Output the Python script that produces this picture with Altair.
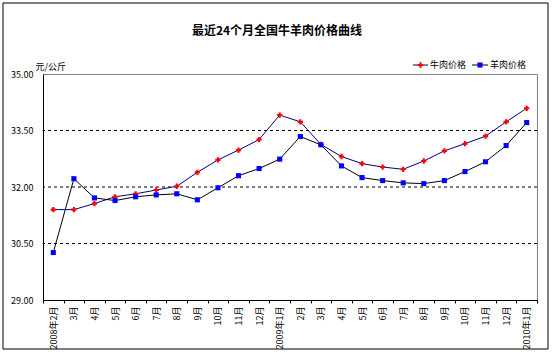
import json
import altair as alt
import pandas as pd

labels = ["2008年2月", "3月", "4月", "5月", "6月", "7月", "8月", "9月", "10月", "11月", "12月",
          "2009年1月", "2月", "3月", "4月", "5月", "6月", "7月", "8月", "9月", "10月", "11月", "12月",
          "2010年1月"]
beef = [31.40, 31.40, 31.56, 31.74, 31.82, 31.92, 32.02, 32.39, 32.72, 32.98, 33.26, 33.91,
        33.73, 33.13, 32.81, 32.62, 32.53, 32.47, 32.69, 32.96, 33.15, 33.35, 33.73, 34.09]
mutton = [30.26, 32.22, 31.71, 31.64, 31.74, 31.79, 31.82, 31.66, 31.98, 32.30, 32.49, 32.74,
          33.34, 33.12, 32.56, 32.25, 32.17, 32.11, 32.09, 32.17, 32.41, 32.67, 33.10, 33.71]
series_names = ["牛肉价格", "羊肉价格"]
y_ticks = [29.0, 30.5, 32.0, 33.5, 35.0]
grid_values = [30.5, 32.0, 33.5]
title_text = "最近24个月全国牛羊肉价格曲线"
y_unit = "元/公斤"

FONT = "Noto Sans CJK SC"

beef_df = pd.DataFrame({"idx": list(range(len(labels))), "value": beef})
mutton_df = pd.DataFrame({"idx": list(range(len(labels))), "value": mutton})
grid_df = pd.DataFrame({"value": grid_values})
one = pd.DataFrame({"k": [0]})

label_expr = json.dumps(labels, ensure_ascii=False) + "[datum.value]"

x_enc = alt.X(
    "idx:O",
    scale=alt.Scale(type="band", paddingInner=0, paddingOuter=0),
    bandPosition=0.5,
    axis=alt.Axis(
        title=None, labelAngle=270, labelExpr=label_expr, tickBand="extent",
        tickSize=3, tickColor="black", domainColor="black", labelColor="black",
        labelFont=FONT, labelFontSize=9, labelPadding=3,
    ),
)
y_enc = alt.Y(
    "value:Q",
    scale=alt.Scale(domain=[29, 35], nice=False, zero=False),
    axis=alt.Axis(
        values=y_ticks, format=".2f", tickSize=0, labelPadding=10, grid=False,
        domainColor="black", labelColor="black", labelFont=FONT, labelFontSize=9,
        title=y_unit, titleAngle=0, titleX=-8, titleY=-8, titleAlign="left",
        titleBaseline="middle", titleFont=FONT, titleFontSize=9, titleFontWeight="normal",
        titleColor="black",
    ),
)

grid = alt.Chart(grid_df).mark_rule(color="black", strokeDash=[3, 3], strokeWidth=1).encode(y=y_enc)

beef_line = alt.Chart(beef_df).mark_line(color="#000080", strokeWidth=1).encode(x=x_enc, y=y_enc)
beef_pts = alt.Chart(beef_df).mark_point(shape="cross", filled=True, color="#FF0000", size=28, opacity=1).encode(x=x_enc, y=y_enc)
mut_line = alt.Chart(mutton_df).mark_line(color="black", strokeWidth=1).encode(x=x_enc, y=y_enc)
mut_pts = alt.Chart(mutton_df).mark_point(shape="square", filled=True, color="#0000FF", size=26, opacity=1).encode(x=x_enc, y=y_enc)

# decorations: outer frame, title, legend (pixel positions relative to plot area)
frame = alt.Chart(one).mark_rect(filled=False, stroke="black", strokeWidth=1, clip=False).encode(
    x=alt.value(-40), x2=alt.value(505), y=alt.value(-71), y2=alt.value(275))
title = alt.Chart(one).mark_text(font=FONT, fontSize=12, fontWeight="bold", color="black",
                                 align="center", baseline="middle").encode(
    x=alt.value(234), y=alt.value(-43), text=alt.value(title_text))

leg_y = -9
leg1_line = alt.Chart(one).mark_rule(color="#000080", strokeWidth=1).encode(
    x=alt.value(370), x2=alt.value(385), y=alt.value(leg_y))
leg1_pt = alt.Chart(one).mark_point(shape="cross", filled=True, color="#FF0000", size=28, opacity=1).encode(
    x=alt.value(377.5), y=alt.value(leg_y))
leg1_txt = alt.Chart(one).mark_text(font=FONT, fontSize=9, color="black", align="left", baseline="middle").encode(
    x=alt.value(387), y=alt.value(leg_y), text=alt.value(series_names[0]))
leg2_line = alt.Chart(one).mark_rule(color="black", strokeWidth=1).encode(
    x=alt.value(429), x2=alt.value(445), y=alt.value(leg_y))
leg2_pt = alt.Chart(one).mark_point(shape="square", filled=True, color="#0000FF", size=26, opacity=1).encode(
    x=alt.value(437), y=alt.value(leg_y))
leg2_txt = alt.Chart(one).mark_text(font=FONT, fontSize=9, color="black", align="left", baseline="middle").encode(
    x=alt.value(447), y=alt.value(leg_y), text=alt.value(series_names[1]))

chart = alt.layer(
    grid, beef_line, mut_line, beef_pts, mut_pts,
    frame, title, leg1_line, leg1_pt, leg1_txt, leg2_line, leg2_pt, leg2_txt,
).properties(
    width=494, height=226,
    autosize=alt.AutoSizeParams(type="none"),
    padding={"left": 43, "top": 74, "right": 16, "bottom": 54},
    background="white",
).configure_view(stroke="#808080", strokeWidth=1)

chart.save("out.html", embed_options={"renderer": "svg", "actions": False})
